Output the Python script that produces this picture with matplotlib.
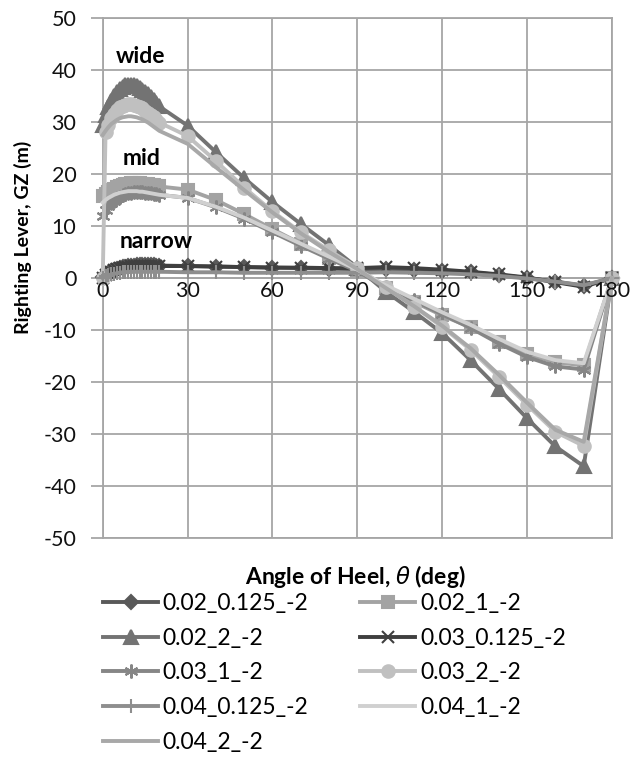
import numpy as np
import matplotlib.pyplot as plt

plt.rcParams['font.family'] = ['Lato', 'DejaVu Sans']
plt.rcParams['axes.unicode_minus'] = False

# angle of heel (deg)
angle = [0, 1, 2, 3, 4, 5, 6, 7, 8, 9, 10, 11, 12, 13, 14, 15, 16, 17, 18, 19, 20,
         30, 40, 50, 60, 70, 80, 90, 100, 110, 120, 130, 140, 150, 160, 170, 180]

# righting lever GZ (m) per case
gz_002_0125 = [0.2, 0.6, 1.0, 1.3, 1.6, 1.8, 2.0, 2.1, 2.2, 2.3, 2.4, 2.4, 2.5, 2.5, 2.5, 2.5, 2.5, 2.5, 2.5, 2.4, 2.4,
               2.3, 2.2, 2.1, 2.0, 1.9, 1.8, 1.7, 1.7, 1.6, 1.4, 1.1, 0.6, 0.0, -0.7, -1.5, 0.0]
gz_002_1 = [15.8, 16.2, 16.6, 16.9, 17.2, 17.5, 17.7, 17.9, 18.0, 18.1, 18.2, 18.2, 18.2, 18.2, 18.1, 18.1, 18.0, 17.9, 17.8, 17.7, 17.6,
            17.0, 15.0, 12.3, 9.4, 6.6, 3.8, 1.5, -2.0, -4.6, -7.2, -9.5, -12.3, -14.6, -16.2, -16.8, 0.0]
gz_002_2 = [29.5, 31.3, 32.8, 34.0, 35.0, 35.8, 36.4, 36.8, 37.1, 37.2, 37.2, 37.1, 36.9, 36.6, 36.2, 35.8, 35.3, 34.8, 34.2, 33.6, 33.0,
            29.3, 24.2, 19.2, 14.6, 10.4, 6.3, 2.0, -2.6, -6.5, -10.6, -15.8, -21.3, -27.0, -32.4, -36.2, 0.0]
gz_003_0125 = [0.0, 0.5, 0.9, 1.2, 1.5, 1.7, 1.9, 2.0, 2.1, 2.2, 2.3, 2.3, 2.4, 2.4, 2.4, 2.4, 2.4, 2.4, 2.4, 2.3, 2.3,
               2.3, 2.2, 2.1, 2.0, 2.0, 1.9, 1.9, 2.1, 1.9, 1.6, 1.2, 0.7, 0.1, -0.8, -1.7, 0.0]
gz_003_1 = [12.0, 13.0, 13.8, 14.4, 14.9, 15.3, 15.6, 15.9, 16.1, 16.3, 16.4, 16.5, 16.5, 16.5, 16.5, 16.4, 16.4, 16.3, 16.2, 16.1, 16.0,
            15.4, 13.6, 11.4, 8.8, 6.2, 3.7, 1.3, -1.8, -4.3, -7.0, -9.6, -12.6, -15.2, -17.0, -17.6, 0.0]
gz_003_2 = [0.0, 28.0, 29.5, 30.7, 31.6, 32.3, 32.8, 33.1, 33.3, 33.4, 33.4, 33.3, 33.1, 32.9, 32.6, 32.2, 31.8, 31.4, 30.9, 30.4, 29.9,
            27.3, 22.5, 17.4, 12.8, 8.8, 5.3, 2.0, -1.8, -5.5, -9.4, -13.8, -19.0, -24.4, -29.6, -32.3, 0.0]
gz_004_0125 = [0.0, 0.3, 0.5, 0.7, 0.8, 0.9, 1.0, 1.1, 1.1, 1.2, 1.2, 1.2, 1.2, 1.2, 1.2, 1.2, 1.2, 1.2, 1.2, 1.2, 1.2,
               1.1, 1.1, 1.0, 1.0, 1.0, 1.0, 1.0, 1.1, 1.0, 0.9, 0.7, 0.4, -0.1, -0.7, -1.4, 0.0]
gz_004_1 = [14.5, 15.0, 15.4, 15.7, 16.0, 16.2, 16.4, 16.5, 16.6, 16.7, 16.7, 16.7, 16.7, 16.6, 16.6, 16.5, 16.4, 16.3, 16.2, 16.1, 16.0,
            15.4, 13.7, 11.6, 9.1, 6.6, 4.1, 1.6, -1.4, -4.0, -6.6, -9.0, -11.7, -14.2, -15.8, -16.4, 0.0]
gz_004_2 = [27.5, 28.3, 29.0, 29.6, 30.0, 30.4, 30.7, 30.9, 31.0, 31.1, 31.1, 31.0, 30.9, 30.7, 30.5, 30.2, 29.9, 29.5, 29.1, 28.7, 28.3,
            25.8, 21.3, 16.9, 12.6, 8.6, 5.0, 1.7, -1.9, -5.4, -9.2, -13.5, -18.6, -24.0, -29.2, -31.5, 0.0]

names = ['0.02_0.125_-2', '0.02_1_-2', '0.02_2_-2', '0.03_0.125_-2', '0.03_1_-2',
         '0.03_2_-2', '0.04_0.125_-2', '0.04_1_-2', '0.04_2_-2']
series = [gz_002_0125, gz_002_1, gz_002_2, gz_003_0125, gz_003_1,
          gz_003_2, gz_004_0125, gz_004_1, gz_004_2]
colors = ['#595959', '#a3a3a3', '#737373', '#3f3f3f', '#868686',
          '#c0c0c0', '#8e8e8e', '#d0d0d0', '#a8a8a8']
markers = ['D', 's', '^', 'x', (6, 2, 0), 'o', '+', None, None]
msizes = [7, 9, 10, 9, 10, 9, 10, 0, 0]

xtick_vals = [0, 30, 60, 90, 120, 150, 180]

fig = plt.figure(figsize=(6.31, 7.69), dpi=100)
ax = fig.add_axes([0.1628, 0.3004, 0.8071, 0.6762])

lines = []
for name, y, c, m, ms in zip(names, series, colors, markers, msizes):
    ln, = ax.plot(angle, y, color=c, lw=2.8, marker=m, ms=ms, mew=1.5,
                  mfc=c, mec=c, label=name, clip_on=False, zorder=3)
    lines.append(ln)

ax.set_xlim(0, 180)
ax.set_ylim(-50, 50)
ax.set_xticks(xtick_vals)
ax.set_xticklabels([])
ax.set_yticks(np.arange(-50, 51, 10))

gc = '#a6a6a6'
ax.grid(True, color=gc, lw=1.3, zorder=0)
ax.set_axisbelow(True)
for s in ['left', 'top', 'right']:
    ax.spines[s].set_color(gc)
    ax.spines[s].set_linewidth(1.3)
ax.spines['bottom'].set_position(('data', 0))
ax.spines['bottom'].set_color(gc)
ax.spines['bottom'].set_linewidth(1.3)
ax.axhline(-50, color=gc, lw=1.3, clip_on=False, zorder=0)

ax.tick_params(axis='y', direction='out', length=9, width=1.3, color=gc,
               pad=10, labelsize=15.5, labelcolor='#111111')
ax.tick_params(axis='x', length=0)

# x tick labels drawn on top of the curves, like the original
for t in xtick_vals:
    ax.annotate(str(t), (t, 0), xytext=(0, -2), textcoords='offset points',
                ha='center', va='top', fontsize=15.5, color='#111111',
                zorder=6, annotation_clip=False)

ax.set_ylabel('Righting Lever, GZ (m)', fontsize=14, fontweight='bold', va='center')
ax.yaxis.set_label_coords(-0.1565, 0.578)
ax.set_xlabel(r'Angle of Heel, $\theta$ (deg)', fontsize=16.5, fontweight='bold', va='center')
ax.xaxis.set_label_coords(0.495, -0.075)

ax.text(13.5, 41.3, 'wide', fontsize=16.5, fontweight='bold', ha='center', va='baseline')
ax.text(13.7, 21.7, 'mid', fontsize=16.5, fontweight='bold', ha='center', va='baseline')
ax.text(18.8, 5.8, 'narrow', fontsize=16.5, fontweight='bold', ha='center', va='baseline')

order = [0, 2, 4, 6, 8, 1, 3, 5, 7]
fig.legend([lines[i] for i in order], [names[i] for i in order],
           loc='upper left', bbox_to_anchor=(103 / 631, 1 - 593 / 769),
           ncol=2, frameon=False, fontsize=16.5, borderpad=0, borderaxespad=0,
           handlelength=2.4, handletextpad=0.2, columnspacing=2.27,
           labelspacing=0.6)

fig.savefig('out.png', dpi=100)
